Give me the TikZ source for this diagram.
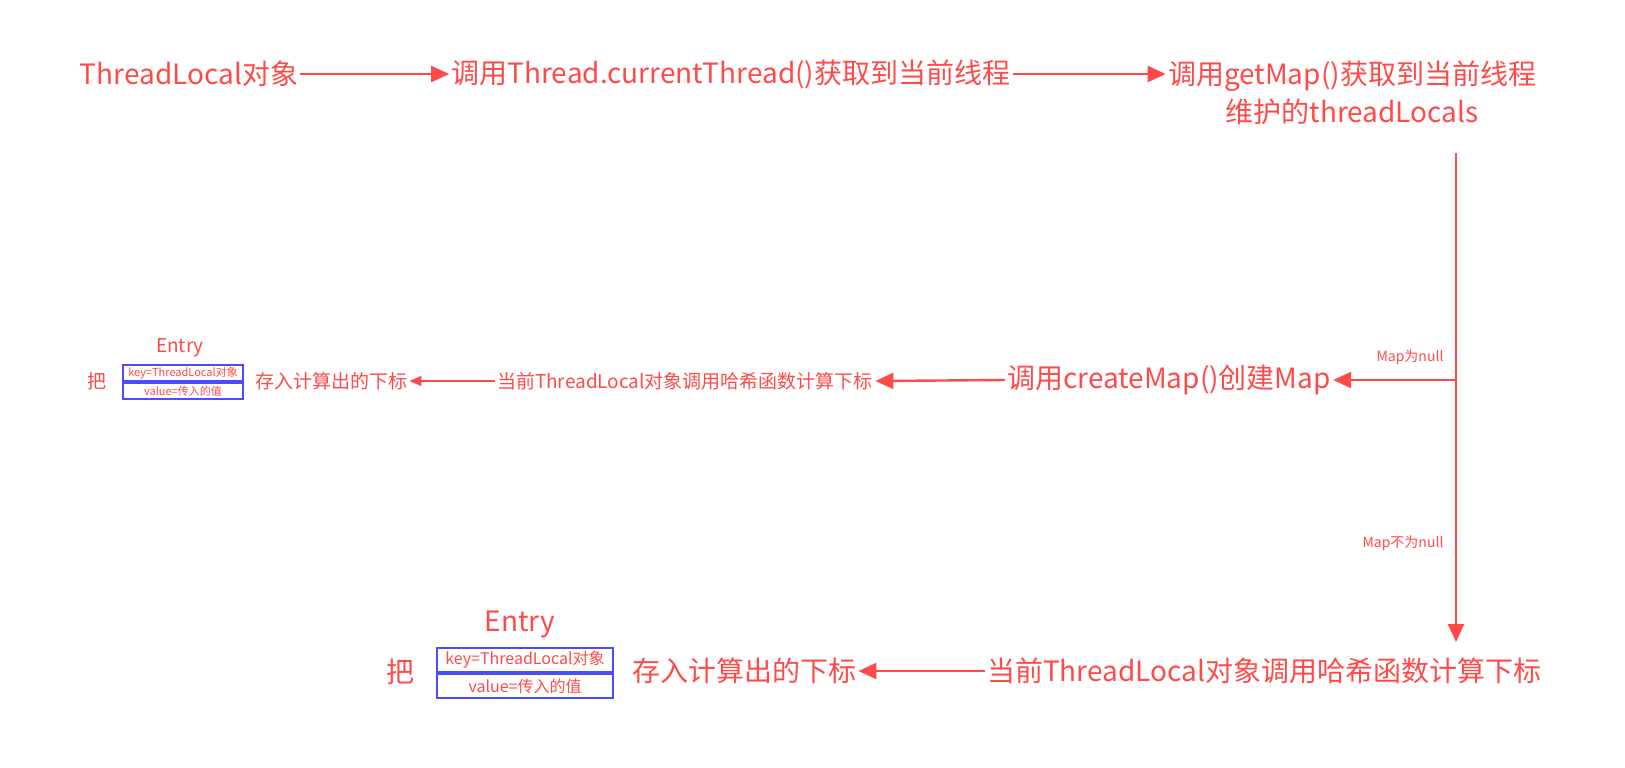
\documentclass[tikz,border=0pt]{standalone}
\usepackage{fontspec}
\setmainfont{Noto Sans CJK SC}
\usetikzlibrary{arrows.meta}
\definecolor{flowred}{HTML}{FF4A4A}
\definecolor{boxblue}{HTML}{4B4BFF}
\tikzset{
  big/.style={text=flowred,font=\fontsize{14}{19}\selectfont,inner sep=1pt},
  mid/.style={text=flowred,font=\fontsize{9.5}{11}\selectfont,inner sep=1pt},
  tag/.style={text=flowred,font=\fontsize{7}{8}\selectfont,inner sep=1pt},
  flow/.style={flowred,line width=1.2pt,-{Triangle[length=9pt,width=8pt]}},
  thinflow/.style={flowred,line width=0.8pt,-{Triangle[length=6pt,width=5pt]}},
  smallcell/.style={draw=boxblue,line width=0.9pt,text=flowred,inner sep=0pt,
    minimum width=60pt,minimum height=8pt,font=\fontsize{5.5}{6}\selectfont},
  bigcell/.style={draw=boxblue,line width=1pt,text=flowred,inner sep=0pt,
    minimum width=88pt,minimum height=12pt,font=\fontsize{8}{9}\selectfont}
}
\begin{document}
\begin{tikzpicture}[x=0.5pt,y=-0.5pt]
            \useasboundingbox (0,0) rectangle (1625,767);
            \node [big] (tl) at (189,74) {ThreadLocal对象};
            \node [big] (cur) at (731,74) {调用Thread.currentThread()获取到当前线程};
            \node [big,align=center] (getmap) at (1352,93) {调用getMap()获取到当前线程\\维护的threadLocals};
            \draw [flow] (tl.east) -- (cur.west);
            \draw [flow] (cur.east) -- (getmap.west |- cur.east);
            \coordinate (down) at (1456,153);
            \coordinate (fork) at (1456,380);
            \coordinate (end) at (1456,642);
            \node [big] (create) at (1169,380) {调用createMap()创建Map};
            \node [tag] (isnull) at (1410,357) {Map为null};
            \node [tag] (notnull) at (1403,543) {Map不为null};
            \draw [flowred,line width=1.2pt] (down) -- (fork);
            \draw [flow] (fork) -- (create.east);
            \draw [flow] (fork) -- (end);
            \node [mid] (hashA) at (685,381) {当前ThreadLocal对象调用哈希函数计算下标};
            \node [mid] (storeA) at (331,381) {存入计算出的下标};
            \draw [flow] (create.west) -- (hashA.east);
            \draw [thinflow] (hashA.west) -- (storeA.east);
            \node [smallcell] (keyA) at (183,373) {key=ThreadLocal对象};
            \node [smallcell,anchor=north] (valA) at (keyA.south) {value=传入的值};
            \node [mid] (entryA) at (180,348) {Entry};
            \node [mid] (baA) at (97,381) {把};
            \node [big] (hashB) at (1264,671) {当前ThreadLocal对象调用哈希函数计算下标};
            \node [big] (storeB) at (744,671) {存入计算出的下标};
            \draw [flow] (hashB.west) -- (storeB.east);
            \node [bigcell] (keyB) at (525,660) {key=ThreadLocal对象};
            \node [bigcell,anchor=north] (valB) at (keyB.south) {value=传入的值};
            \node [big] (entryB) at (520,624) {Entry};
            \node [big] (baB) at (400,672) {把};
\end{tikzpicture}
\end{document}
